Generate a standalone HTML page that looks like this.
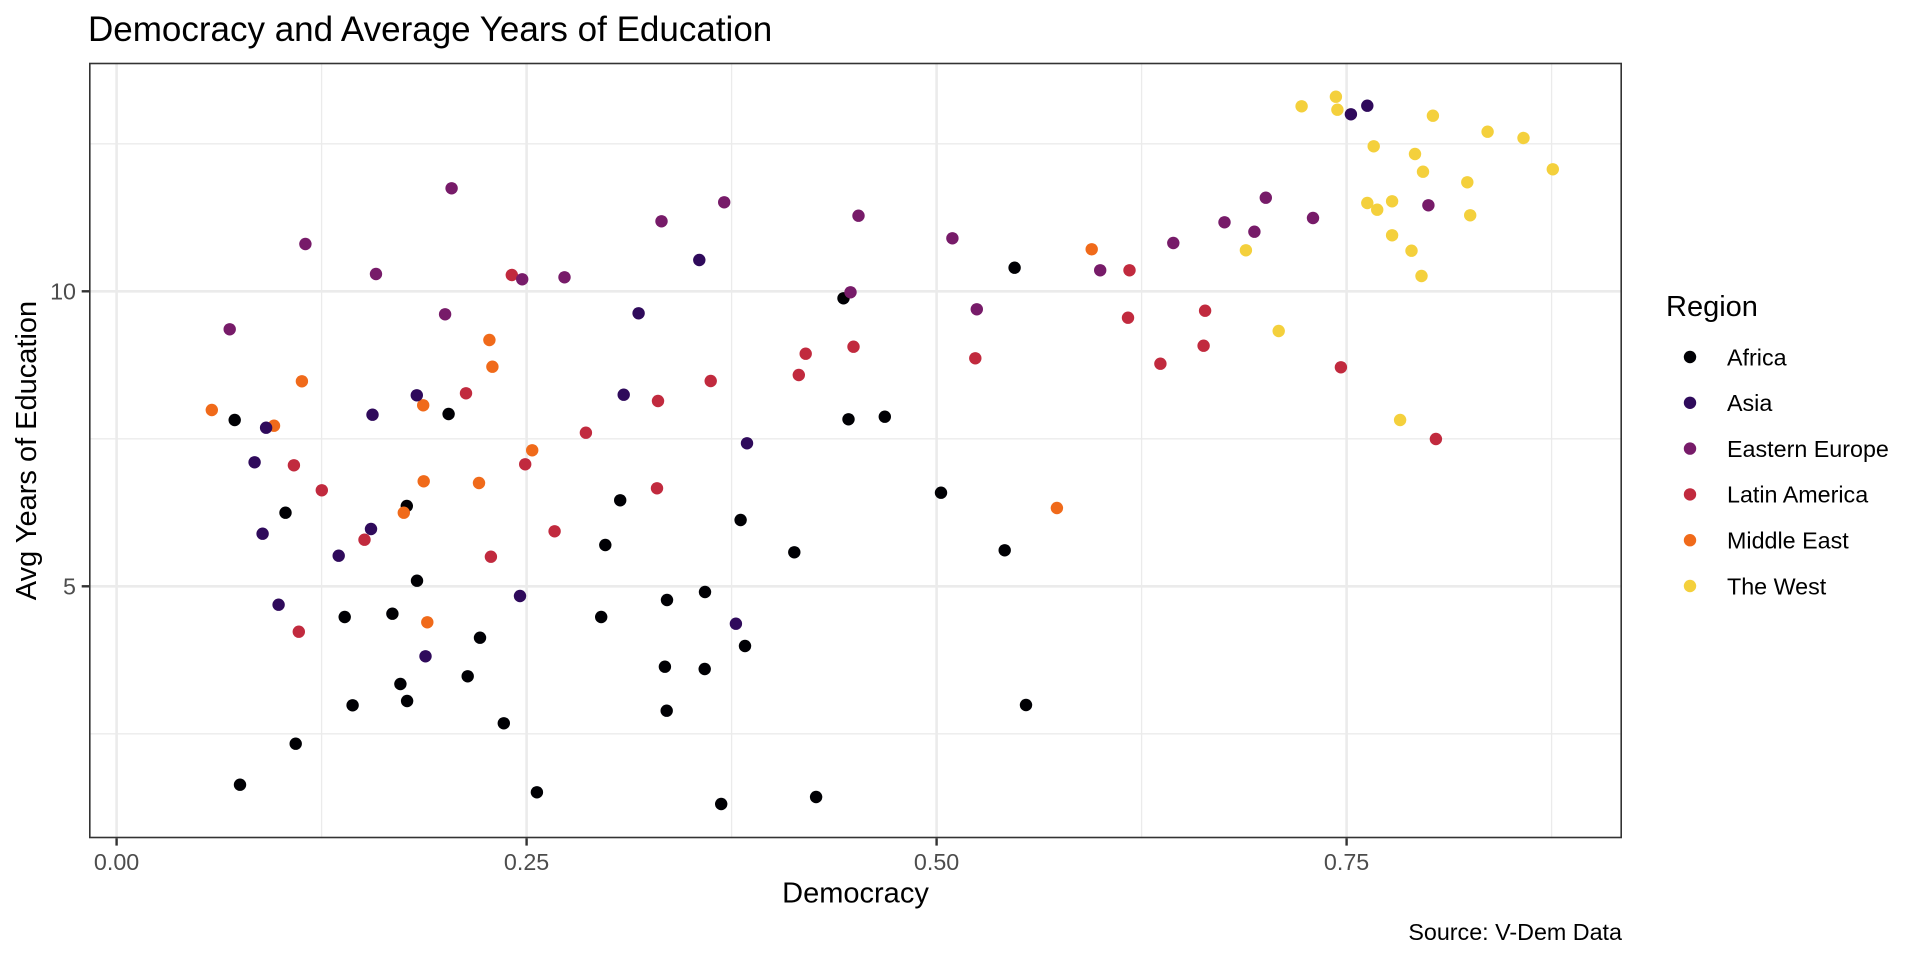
<!DOCTYPE html>
<html>
<head>
<meta charset="utf-8">
<style>
  html, body { margin: 0; padding: 0; background: #ffffff; }
  svg { display: block; }
  text { font-family: "Liberation Sans", Arial, sans-serif; }
</style>
</head>
<body>
<svg width="1920" height="960" viewBox="0 0 1920 960" xmlns="http://www.w3.org/2000/svg">
  <rect x="0" y="0" width="1920" height="960" fill="#ffffff"/>

  <!-- Title -->
  <text x="88" y="41" font-size="35" fill="#000000">Democracy and Average Years of Education</text>

  <!-- Panel background -->
  <rect x="89" y="62.7" width="1533" height="775.6" fill="#ffffff"/>

  <!-- Minor gridlines -->
  <g stroke="#EBEBEB" stroke-width="1.3" fill="none">
    <line x1="89" y1="143.8" x2="1622" y2="143.8"/>
    <line x1="89" y1="438.8" x2="1622" y2="438.8"/>
    <line x1="89" y1="733.8" x2="1622" y2="733.8"/>
    <line x1="321.6" y1="62.7" x2="321.6" y2="838.3"/>
    <line x1="731.6" y1="62.7" x2="731.6" y2="838.3"/>
    <line x1="1141.6" y1="62.7" x2="1141.6" y2="838.3"/>
    <line x1="1551.6" y1="62.7" x2="1551.6" y2="838.3"/>
  </g>
  <!-- Major gridlines -->
  <g stroke="#EBEBEB" stroke-width="2.6" fill="none">
    <line x1="89" y1="291.3" x2="1622" y2="291.3"/>
    <line x1="89" y1="586.3" x2="1622" y2="586.3"/>
    <line x1="116.6" y1="62.7" x2="116.6" y2="838.3"/>
    <line x1="526.6" y1="62.7" x2="526.6" y2="838.3"/>
    <line x1="936.6" y1="62.7" x2="936.6" y2="838.3"/>
    <line x1="1346.6" y1="62.7" x2="1346.6" y2="838.3"/>
  </g>

  <!-- Africa -->
  <g fill="#000004">
    <circle cx="417" cy="580.7" r="6.2"/><circle cx="705" cy="592" r="6.2"/><circle cx="667" cy="600" r="6.2"/>
    <circle cx="344.7" cy="617" r="6.2"/><circle cx="392.4" cy="613.7" r="6.2"/><circle cx="601.2" cy="617" r="6.2"/>
    <circle cx="480" cy="637.7" r="6.2"/><circle cx="745" cy="646" r="6.2"/><circle cx="664.9" cy="666.7" r="6.2"/>
    <circle cx="704.7" cy="669" r="6.2"/><circle cx="467.7" cy="676.3" r="6.2"/><circle cx="400.4" cy="684" r="6.2"/>
    <circle cx="352.6" cy="705.3" r="6.2"/><circle cx="407.1" cy="701" r="6.2"/><circle cx="666.7" cy="710.7" r="6.2"/>
    <circle cx="503.8" cy="723.3" r="6.2"/><circle cx="295.7" cy="743.7" r="6.2"/><circle cx="240" cy="784.7" r="6.2"/>
    <circle cx="536.9" cy="792.3" r="6.2"/><circle cx="721.2" cy="804" r="6.2"/><circle cx="816.1" cy="797" r="6.2"/>
    <circle cx="843.5" cy="298.3" r="6.2"/><circle cx="234.7" cy="420" r="6.2"/><circle cx="448.6" cy="414" r="6.2"/>
    <circle cx="848.5" cy="419.3" r="6.2"/><circle cx="285.5" cy="512.7" r="6.2"/><circle cx="406.8" cy="506" r="6.2"/>
    <circle cx="620.2" cy="500.3" r="6.2"/><circle cx="605.3" cy="545" r="6.2"/><circle cx="740.6" cy="520" r="6.2"/>
    <circle cx="794.3" cy="552.3" r="6.2"/><circle cx="884.8" cy="416.7" r="6.2"/><circle cx="1014.6" cy="267.7" r="6.2"/>
    <circle cx="941" cy="492.7" r="6.2"/><circle cx="1004.7" cy="550.3" r="6.2"/><circle cx="1026" cy="705" r="6.2"/>
  </g>

  <!-- Latin America -->
  <g fill="#C12A3E">
    <circle cx="298.8" cy="631.7" r="6.2"/><circle cx="511.8" cy="275" r="6.2"/><circle cx="805.7" cy="353.7" r="6.2"/>
    <circle cx="853.5" cy="346.7" r="6.2"/><circle cx="798.8" cy="375" r="6.2"/><circle cx="710.7" cy="381" r="6.2"/>
    <circle cx="658" cy="401" r="6.2"/><circle cx="466" cy="393.3" r="6.2"/><circle cx="585.9" cy="432.7" r="6.2"/>
    <circle cx="293.9" cy="465.3" r="6.2"/><circle cx="321.8" cy="490.3" r="6.2"/><circle cx="364.5" cy="539.7" r="6.2"/>
    <circle cx="525.2" cy="464.3" r="6.2"/><circle cx="490.9" cy="556.7" r="6.2"/><circle cx="554.6" cy="531.3" r="6.2"/>
    <circle cx="657" cy="488.3" r="6.2"/><circle cx="975.3" cy="358.3" r="6.2"/><circle cx="1129.5" cy="270.3" r="6.2"/>
    <circle cx="1128" cy="317.7" r="6.2"/><circle cx="1160.4" cy="363.7" r="6.2"/><circle cx="1205.1" cy="310.7" r="6.2"/>
    <circle cx="1203.6" cy="345.7" r="6.2"/><circle cx="1340.9" cy="367.3" r="6.2"/><circle cx="1435.9" cy="439" r="6.2"/>
  </g>

  <!-- Middle East -->
  <g fill="#F06A1A">
    <circle cx="427.3" cy="622.3" r="6.2"/><circle cx="489.4" cy="340" r="6.2"/><circle cx="492.4" cy="366.7" r="6.2"/>
    <circle cx="301.9" cy="381.3" r="6.2"/><circle cx="423.2" cy="405.3" r="6.2"/><circle cx="211.8" cy="410" r="6.2"/>
    <circle cx="274" cy="425.7" r="6.2"/><circle cx="532.2" cy="450.3" r="6.2"/><circle cx="423.7" cy="481.3" r="6.2"/>
    <circle cx="403.8" cy="512.7" r="6.2"/><circle cx="479" cy="483" r="6.2"/><circle cx="1091.7" cy="249.3" r="6.2"/>
    <circle cx="1056.9" cy="508" r="6.2"/>
  </g>

  <!-- Asia -->
  <g fill="#2F0A5B">
    <circle cx="520" cy="596" r="6.2"/><circle cx="278.6" cy="604.7" r="6.2"/><circle cx="735.9" cy="623.7" r="6.2"/>
    <circle cx="425.5" cy="656.3" r="6.2"/><circle cx="699.3" cy="260" r="6.2"/><circle cx="638.6" cy="313.3" r="6.2"/>
    <circle cx="623.7" cy="394.7" r="6.2"/><circle cx="416.8" cy="395.3" r="6.2"/><circle cx="266.1" cy="427.7" r="6.2"/>
    <circle cx="372.5" cy="414.7" r="6.2"/><circle cx="747" cy="443.3" r="6.2"/><circle cx="254.6" cy="462.3" r="6.2"/>
    <circle cx="262.6" cy="533.7" r="6.2"/><circle cx="371" cy="529" r="6.2"/><circle cx="338.7" cy="555.7" r="6.2"/>
    <circle cx="1350.9" cy="114.3" r="6.2"/><circle cx="1367.3" cy="105.7" r="6.2"/>
  </g>

  <!-- Eastern Europe -->
  <g fill="#771B69">
    <circle cx="451.6" cy="188.3" r="6.2"/><circle cx="305.4" cy="244" r="6.2"/><circle cx="376" cy="274" r="6.2"/>
    <circle cx="522.2" cy="279.3" r="6.2"/><circle cx="564.5" cy="277.3" r="6.2"/><circle cx="661.5" cy="221.3" r="6.2"/>
    <circle cx="724.2" cy="202.3" r="6.2"/><circle cx="858.5" cy="215.7" r="6.2"/><circle cx="850.5" cy="292.3" r="6.2"/>
    <circle cx="229.7" cy="329.3" r="6.2"/><circle cx="445.1" cy="314.3" r="6.2"/><circle cx="952.4" cy="238.3" r="6.2"/>
    <circle cx="976.8" cy="309.3" r="6.2"/><circle cx="1100.2" cy="270.3" r="6.2"/><circle cx="1173.3" cy="243" r="6.2"/>
    <circle cx="1224.5" cy="222.3" r="6.2"/><circle cx="1254.4" cy="231.7" r="6.2"/><circle cx="1265.8" cy="197.7" r="6.2"/>
    <circle cx="1313" cy="218" r="6.2"/><circle cx="1428.4" cy="205.3" r="6.2"/>
  </g>

  <!-- The West -->
  <g fill="#F4D03C">
    <circle cx="1245.9" cy="250.3" r="6.2"/><circle cx="1278.7" cy="331" r="6.2"/><circle cx="1301.6" cy="106.3" r="6.2"/>
    <circle cx="1335.9" cy="96.7" r="6.2"/><circle cx="1337.4" cy="109.7" r="6.2"/><circle cx="1432.9" cy="115.7" r="6.2"/>
    <circle cx="1487.6" cy="131.7" r="6.2"/><circle cx="1523.5" cy="138" r="6.2"/><circle cx="1373.7" cy="146.3" r="6.2"/>
    <circle cx="1415" cy="154" r="6.2"/><circle cx="1423" cy="171.7" r="6.2"/><circle cx="1467.3" cy="182.3" r="6.2"/>
    <circle cx="1552.8" cy="169.3" r="6.2"/><circle cx="1367.3" cy="203" r="6.2"/><circle cx="1377.2" cy="209.7" r="6.2"/>
    <circle cx="1392.1" cy="201.3" r="6.2"/><circle cx="1470.2" cy="215.3" r="6.2"/><circle cx="1392.1" cy="235.3" r="6.2"/>
    <circle cx="1411.5" cy="250.7" r="6.2"/><circle cx="1421.5" cy="276" r="6.2"/><circle cx="1400.1" cy="420" r="6.2"/>
  </g>

  <!-- Panel border -->
  <rect x="89.8" y="63.5" width="1531.4" height="774" fill="none" stroke="#333333" stroke-width="1.6"/>

  <!-- Ticks -->
  <g stroke="#333333" stroke-width="2.4">
    <line x1="116.6" y1="838.3" x2="116.6" y2="845.6"/>
    <line x1="526.6" y1="838.3" x2="526.6" y2="845.6"/>
    <line x1="936.6" y1="838.3" x2="936.6" y2="845.6"/>
    <line x1="1346.6" y1="838.3" x2="1346.6" y2="845.6"/>
    <line x1="81.7" y1="291.3" x2="89" y2="291.3"/>
    <line x1="81.7" y1="586.3" x2="89" y2="586.3"/>
  </g>

  <!-- Tick labels -->
  <g font-size="23.3" fill="#4D4D4D" text-anchor="middle">
    <text x="116.6" y="870">0.00</text>
    <text x="526.6" y="870">0.25</text>
    <text x="936.6" y="870">0.50</text>
    <text x="1346.6" y="870">0.75</text>
  </g>
  <g font-size="23.3" fill="#4D4D4D" text-anchor="end">
    <text x="76" y="299.6">10</text>
    <text x="76" y="594.6">5</text>
  </g>

  <!-- Axis titles -->
  <text x="855.5" y="902.5" font-size="29" fill="#000000" text-anchor="middle">Democracy</text>
  <text transform="translate(36,450.5) rotate(-90)" x="0" y="0" font-size="29" fill="#000000" text-anchor="middle">Avg Years of Education</text>

  <!-- Legend -->
  <text x="1666" y="316" font-size="29" fill="#000000">Region</text>
  <circle cx="1690" cy="357" r="6.2" fill="#000004"/>
  <circle cx="1690" cy="402.8" r="6.2" fill="#2F0A5B"/>
  <circle cx="1690" cy="448.6" r="6.2" fill="#771B69"/>
  <circle cx="1690" cy="494.4" r="6.2" fill="#C12A3E"/>
  <circle cx="1690" cy="540.2" r="6.2" fill="#F06A1A"/>
  <circle cx="1690" cy="586" r="6.2" fill="#F4D03C"/>
  <g font-size="23.3" fill="#000000">
    <text x="1727" y="365.3">Africa</text>
    <text x="1727" y="411.1">Asia</text>
    <text x="1727" y="456.9">Eastern Europe</text>
    <text x="1727" y="502.7">Latin America</text>
    <text x="1727" y="548.5">Middle East</text>
    <text x="1727" y="594.3">The West</text>
  </g>

  <!-- Caption -->
  <text x="1622" y="940" font-size="23.3" fill="#000000" text-anchor="end">Source: V-Dem Data</text>
</svg>
</body>
</html>
